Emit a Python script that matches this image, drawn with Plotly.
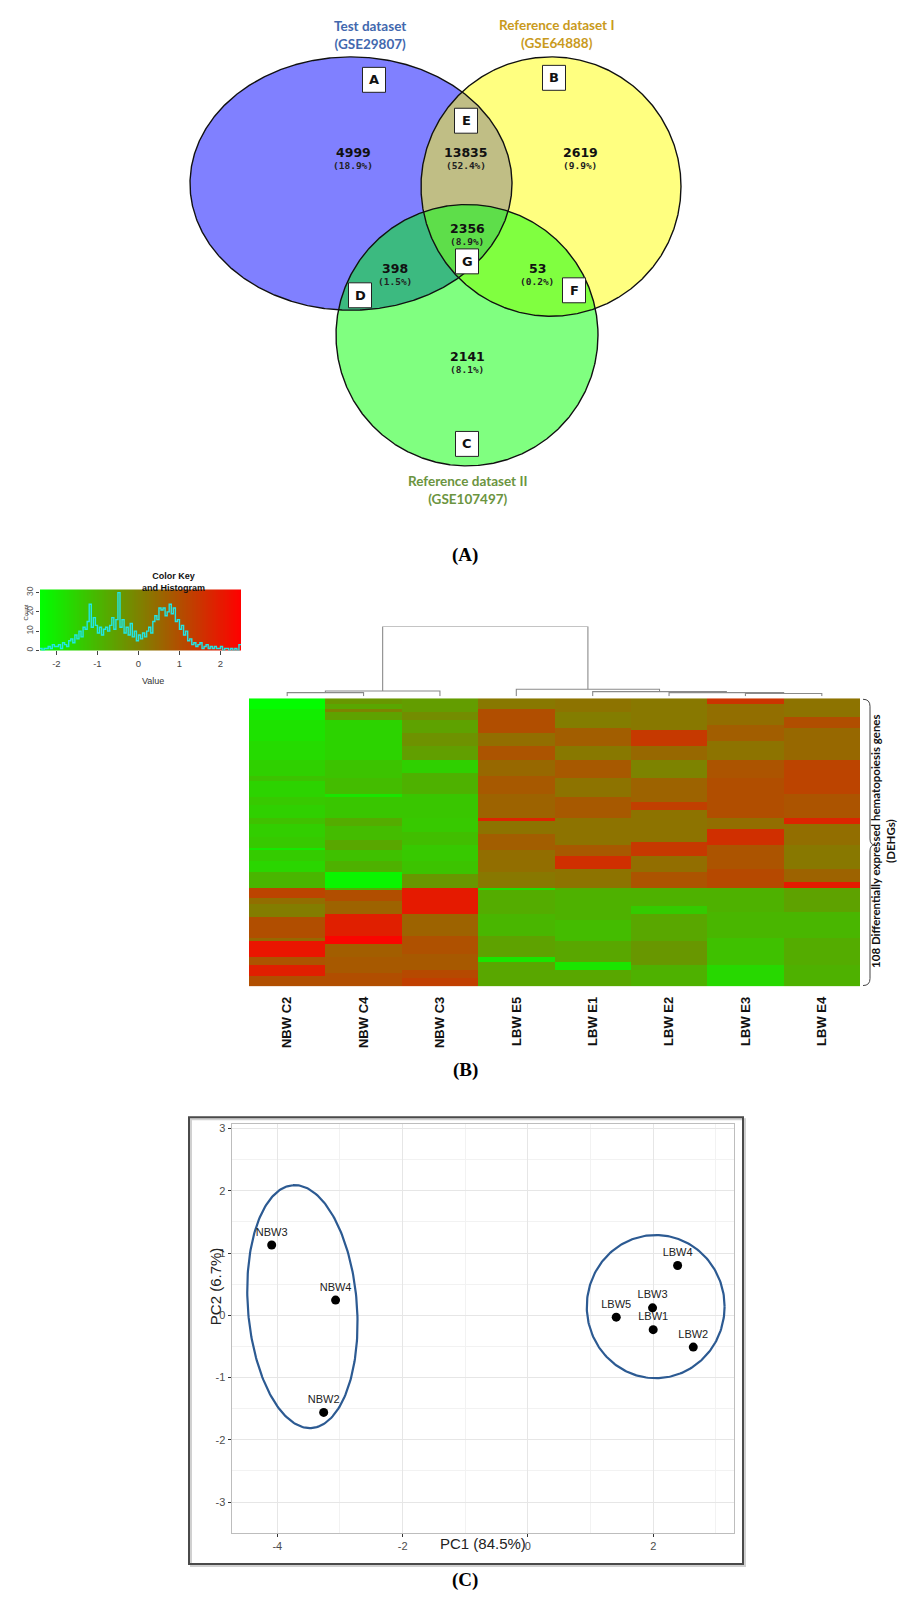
import numpy as np
import plotly.graph_objects as go

W, H = 907, 1604


def fx(p):
    return p / W


def fy(p):
    return 1 - p / H


# ======================= DATA =======================
# (A) Venn diagram
venn_titles = ["Test dataset<br>(GSE29807)", "Reference dataset I<br>(GSE64888)",
               "Reference dataset II<br>(GSE107497)"]
venn_title_colors = ["#4268AE", "#C99A1C", "#6B9440"]
venn_regions = ["A", "B", "C", "D", "E", "F", "G"]
venn_counts = [4999, 2619, 2141, 398, 13835, 53, 2356]
venn_percents = ["18.9%", "9.9%", "8.1%", "1.5%", "52.4%", "0.2%", "8.9%"]

# (B) Heatmap: samples and per-column runs of (number of rows, value), top to bottom
samples = ["NBW C2", "NBW C4", "NBW C3", "LBW E5", "LBW E1", "LBW E2", "LBW E3", "LBW E4"]
runs_nbw_c2 = [(4, -2.35), (4, -2.05), (8, -1.85), (7, -1.7), (6, -1.5), (2, -1.25), (6, -1.55),
               (3, -1.35), (5, -1.5), (2, -1.2), (5, -1.45), (4, -1.35), (1, -2.0), (4, -1.4),
               (4, -1.6), (6, -1.0), (4, 1.2), (2, 0.4), (5, 0.1), (8, 1.0), (1, 0.5), (6, 2.1),
               (3, 0.9), (4, 1.9), (4, 1.0)]
runs_nbw_c4 = [(2, -0.4), (2, -0.7), (1, 0.0), (3, -0.6), (15, -1.55), (7, -1.25), (6, -1.1),
               (1, -1.9), (8, -1.3), (3, -0.8), (5, -1.1), (4, -0.7), (4, -1.2), (4, -0.9),
               (6, -2.2), (1, -0.8), (4, 1.0), (5, 0.6), (8, 1.9), (3, 2.4), (5, 0.7), (6, 0.8),
               (5, 1.0)]
runs_nbw_c3 = [(5, -0.5), (3, -0.2), (5, -0.6), (5, -0.3), (5, -0.55), (5, -1.5), (8, -0.9),
               (9, -1.3), (5, -1.35), (5, -1.15), (6, -1.35), (5, -1.25), (5, -0.4), (10, 2.0),
               (8, 0.6), (7, 0.95), (6, 0.8), (3, 1.1), (3, 1.3)]
runs_lbw_e5 = [(4, 0.2), (9, 1.0), (5, 0.4), (5, 0.9), (6, 0.5), (7, 0.8), (9, 0.6), (1, 1.8),
               (5, 0.3), (6, 0.7), (8, 0.4), (6, 0.2), (1, -1.8), (9, -0.8), (8, -1.0), (8, -0.6),
               (2, -1.9), (9, -0.7)]
runs_lbw_e1 = [(5, 0.3), (6, 0.1), (7, 0.7), (5, 0.2), (7, 0.8), (7, 0.3), (8, 0.8), (10, 0.3),
               (4, 0.8), (5, 1.6), (7, 0.3), (12, -0.9), (8, -1.1), (8, -0.7), (3, -1.9), (6, -0.7)]
runs_lbw_e2 = [(12, 0.2), (6, 1.4), (5, 0.5), (7, 0.0), (9, 0.6), (3, 1.3), (12, 0.3), (5, 1.4),
               (6, 0.4), (6, 0.9), (7, -0.9), (3, -1.4), (10, -0.7), (9, -0.4), (8, -0.9)]
runs_lbw_e3 = [(2, 1.5), (8, 0.4), (6, 0.7), (7, 0.3), (7, 0.9), (15, 1.0), (4, 0.4), (6, 1.6),
               (9, 0.9), (7, 1.1), (9, -0.9), (10, -1.0), (10, -1.2), (8, -1.65)]
runs_lbw_e4 = [(7, 0.3), (4, 1.0), (12, 0.5), (13, 1.2), (9, 0.9), (2, 1.8), (8, 0.4), (9, 0.2),
               (5, 0.6), (2, 2.0), (9, -0.6), (10, -1.0), (10, -0.8), (8, -0.9)]
heat_runs = [runs_nbw_c2, runs_nbw_c4, runs_nbw_c3, runs_lbw_e5,
             runs_lbw_e1, runs_lbw_e2, runs_lbw_e3, runs_lbw_e4]

# Column dendrogram (leaf order = samples order): (child1, child2, height)
dendro_merges = [(0, 1, 0.53), (8, 2, 0.76), (6, 7, 0.39), (5, 10, 0.53),
                 (4, 11, 0.67), (3, 12, 1.0), (9, 13, 10.0)]

# Color key histogram (bins of 0.05 starting at -2.4)
hist_start = -2.4
hist_bin = 0.05
hist_counts = [1, 0, 1, 1, 2, 1, 3, 2,
               2, 3, 1, 4, 3, 2, 5, 6,
               4, 8, 6, 10, 7, 12,
               11, 15, 24, 12, 17, 13,
               9, 12, 8, 11, 12, 10,
               13, 17, 11, 16,
               30, 12, 16, 9, 12, 8,
               14, 7, 10, 5, 8, 6, 9, 7,
               10, 12, 9, 15, 18, 16,
               22, 21, 22, 18, 20, 24,
               19, 22, 15, 16, 11, 13,
               8, 10, 5, 6, 3, 4,
               2, 3, 4, 1, 2, 3, 1, 2,
               1, 2, 1, 1, 2, 0, 1, 1,
               0, 1, 0, 1, 0, 3]

# (C) PCA
pca_names = ["NBW3", "NBW4", "NBW2", "LBW4", "LBW5", "LBW3", "LBW1", "LBW2"]
pc1 = [-4.09, -3.07, -3.26, 2.39, 1.41, 1.99, 2.00, 2.64]
pc2 = [1.13, 0.245, -1.56, 0.80, -0.03, 0.12, -0.23, -0.51]
ell_center_x = [-3.60, 2.04]
ell_center_y = [0.14, 0.14]
ell_semi_a = [1.956, 1.10]
ell_semi_b = [0.87, 1.15]
ell_angle_deg = [94.4, 0.0]

# ======================= FIGURE =======================
fig = go.Figure()
annotations = []
shapes = []

# ---------- (A) Venn ----------
# set outlines: centre x, centre y, radius x, radius y (pixel canvas)
geom = {"A": (343, 173, 161, 127), "B": (543, 176, 130, 130), "C": (459, 325, 131, 131)}
set_fill = {"A": "#8080FF", "B": "#FFFF80", "C": "#80FF80"}
lens_fill = {("A", "B"): "#C0BE85", ("A", "C"): "#3CBA80", ("B", "C"): "#80FF40",
             ("A", "B", "C"): "#5EDE4A"}


def boundary(k, n=900):
    t = np.linspace(0, 2 * np.pi, n, endpoint=False)
    cx, cy, rx, ry = geom[k]
    return np.c_[cx + rx * np.cos(t), cy + ry * np.sin(t)]


def inside(pts, k):
    cx, cy, rx, ry = geom[k]
    return ((pts[:, 0] - cx) / rx) ** 2 + ((pts[:, 1] - cy) / ry) ** 2 <= 1 + 1e-9


def region_poly(keys):
    parts = []
    for k in keys:
        p = boundary(k)
        m = np.ones(len(p), bool)
        for o in keys:
            if o != k:
                m &= inside(p, o)
        parts.append(p[m])
    pts = np.vstack(parts)
    c = pts.mean(axis=0)
    order = np.argsort(np.arctan2(pts[:, 1] - c[1], pts[:, 0] - c[0]))
    pts = pts[order]
    return np.vstack([pts, pts[:1]])


for k in ["A", "B", "C"]:
    p = boundary(k)
    p = np.vstack([p, p[:1]])
    fig.add_trace(go.Scatter(x=p[:, 0], y=p[:, 1], mode="lines", fill="toself",
                             fillcolor=set_fill[k], line=dict(width=0), hoverinfo="skip",
                             showlegend=False, xaxis="x", yaxis="y"))
for keys, col in lens_fill.items():
    p = region_poly(keys)
    fig.add_trace(go.Scatter(x=p[:, 0], y=p[:, 1], mode="lines", fill="toself",
                             fillcolor=col, line=dict(width=0), hoverinfo="skip",
                             showlegend=False, xaxis="x", yaxis="y"))
for k in ["A", "B", "C"]:
    p = boundary(k)
    p = np.vstack([p, p[:1]])
    fig.add_trace(go.Scatter(x=p[:, 0], y=p[:, 1], mode="lines",
                             line=dict(color="#111111", width=1.4), hoverinfo="skip",
                             showlegend=False, xaxis="x", yaxis="y"))

count_xy = {"A": (345, 142), "B": (572, 142), "C": (459, 346), "D": (387, 258),
            "E": (458, 142), "F": (529, 258), "G": (459, 218)}
box_xy = {"A": (366, 69), "B": (546, 67), "C": (459, 434), "D": (352, 285),
          "E": (458, 110), "F": (566, 280), "G": (459, 251)}
for reg, cnt, pct in zip(venn_regions, venn_counts, venn_percents):
    x, y = count_xy[reg]
    annotations.append(dict(x=x, y=y, xref="x", yref="y", text=f"<b>{cnt}</b>", showarrow=False,
                            font=dict(family="DejaVu Sans", size=12.5, color="#111111")))
    annotations.append(dict(x=x, y=y + 13, xref="x", yref="y", text=f"<b>({pct})</b>",
                            showarrow=False,
                            font=dict(family="DejaVu Sans Mono", size=9.5, color="#222222")))
    bx, by = box_xy[reg]
    shapes.append(dict(type="rect", xref="x", yref="y", x0=bx - 11.5, x1=bx + 11.5,
                       y0=by - 12.5, y1=by + 12.5, fillcolor="white",
                       line=dict(color="#222222", width=1)))
    annotations.append(dict(x=bx, y=by, xref="x", yref="y", text=f"<b>{reg}</b>",
                            showarrow=False,
                            font=dict(family="DejaVu Sans", size=13, color="#111111")))

title_xy = [(362, 24), (548, 23), (459, 480)]
for t, c, (x, y) in zip(venn_titles, venn_title_colors, title_xy):
    annotations.append(dict(x=x, y=y, xref="x", yref="y", text=f"<b>{t}</b>", showarrow=False,
                            font=dict(family="Lato", size=13.5, color=c)))

# ---------- Color key ----------
n_bins = len(hist_counts)
edges = hist_start + hist_bin * np.arange(n_bins + 1)
centers = (edges[:-1] + edges[1:]) / 2
key_top = 31.6
gr_scale = [[0, "#00FF00"], [0.5, "#808000"], [1, "#FF0000"]]
fig.add_trace(go.Heatmap(x=centers, y=[0, key_top], z=[list(centers), list(centers)],
                         colorscale=gr_scale, zmin=edges[0], zmax=edges[-1],
                         showscale=False, hoverinfo="skip", xaxis="x2", yaxis="y2"))
fig.add_trace(go.Scatter(x=edges, y=hist_counts + [hist_counts[-1]], mode="lines",
                         line=dict(color="#22E6E6", width=1.4, shape="hv"),
                         hoverinfo="skip", showlegend=False, xaxis="x2", yaxis="y2"))

# ---------- Dendrogram ----------
node_x = {i: float(i) for i in range(len(samples))}
node_h = {i: 0.0 for i in range(len(samples))}
dx, dy = [], []
for j, (a, b, h) in enumerate(dendro_merges):
    nid = len(samples) + j
    dx += [node_x[a], node_x[a], node_x[b], node_x[b], None]
    dy += [node_h[a], h, h, node_h[b], None]
    node_x[nid] = (node_x[a] + node_x[b]) / 2
    node_h[nid] = h
fig.add_trace(go.Scatter(x=dx, y=dy, mode="lines", line=dict(color="#8A8A8A", width=1.1),
                         hoverinfo="skip", showlegend=False, xaxis="x3", yaxis="y3"))

# ---------- Heatmap ----------
cols = []
for runs in heat_runs:
    col = []
    for n, v in runs:
        col += [v] * n
    cols.append(col)
z = np.array(cols).T
fig.add_trace(go.Heatmap(z=z, x=list(range(len(samples))), y=list(range(z.shape[0])),
                         colorscale=gr_scale, zmin=edges[0], zmax=edges[-1], showscale=False,
                         zsmooth=False, hoverinfo="skip", xaxis="x4", yaxis="y4"))

# ---------- PCA ----------
t = np.linspace(0, 2 * np.pi, 240)
for cx, cy, a, b, ang in zip(ell_center_x, ell_center_y, ell_semi_a, ell_semi_b, ell_angle_deg):
    th = np.deg2rad(ang)
    ex = cx + a * np.cos(t) * np.cos(th) - b * np.sin(t) * np.sin(th)
    ey = cy + a * np.cos(t) * np.sin(th) + b * np.sin(t) * np.cos(th)
    fig.add_trace(go.Scatter(x=ex, y=ey, mode="lines", line=dict(color="#2C5A92", width=2.2),
                             hoverinfo="skip", showlegend=False, xaxis="x5", yaxis="y5"))
fig.add_trace(go.Scatter(x=pc1, y=pc2, mode="markers+text", text=pca_names,
                         textposition="top center",
                         textfont=dict(family="Liberation Sans", size=11, color="#222222"),
                         marker=dict(color="black", size=9), hoverinfo="skip",
                         showlegend=False, xaxis="x5", yaxis="y5"))

# ---------- Extra annotations / shapes ----------
annotations.append(dict(x=fx(132), y=fy(572), xref="paper", yref="paper",
                        text="<b>Color Key<br>and Histogram</b>", showarrow=False,
                        font=dict(family="Liberation Sans", size=9, color="#111111")))
annotations.append(dict(x=fx(132), y=fy(672), xref="paper", yref="paper", text="Value",
                        showarrow=False, font=dict(family="Liberation Sans", size=9, color="#333333")))
annotations.append(dict(x=fx(13), y=fy(603), xref="paper", yref="paper", text="Count",
                        textangle=-90, showarrow=False,
                        font=dict(family="Liberation Sans", size=6, color="#333333")))

# Bracket and rotated label for heatmap rows
bx0, bx1, btip = 855, 862, 867
ytop, ybot, ymid = 690, 977, 836
pts = [("M", bx0, ytop), ("Q", bx1, ytop, bx1, ytop + 7), ("L", bx1, ymid - 6),
       ("Q", bx1, ymid, btip, ymid), ("Q", bx1, ymid, bx1, ymid + 6), ("L", bx1, ybot - 7),
       ("Q", bx1, ybot, bx0, ybot)]
path = ""
for p in pts:
    cmd = p[0]
    coords = p[1:]
    s = []
    for i in range(0, len(coords), 2):
        s.append(f"{fx(coords[i]):.5f},{fy(coords[i + 1]):.5f}")
    path += cmd + " " + " ".join(s) + " "
shapes.append(dict(type="path", xref="paper", yref="paper", path=path,
                   line=dict(color="#444444", width=1)))
annotations.append(dict(x=fx(891), y=fy(832), xref="paper", yref="paper",
                        text="<b>108 Differentially expressed hematopoiesis genes<br>(DEHGs)</b>",
                        textangle=-90, showarrow=False,
                        font=dict(family="Lato", size=11.5, color="#111111")))

# PCA frame and axis titles
shapes.append(dict(type="rect", xref="paper", yref="paper", x0=fx(183), x1=fx(737),
                   y0=fy(1559), y1=fy(1111), line=dict(color="#D0D0D0", width=2)))
shapes.append(dict(type="rect", xref="paper", yref="paper", x0=fx(181), x1=fx(735),
                   y0=fy(1557), y1=fy(1109), line=dict(color="#4A4A4A", width=2)))
annotations.append(dict(x=fx(475), y=fy(1547), xref="paper", yref="paper", text="PC1 (84.5%)",
                        showarrow=False, font=dict(family="Liberation Sans", size=15, color="#222222")))
annotations.append(dict(x=fx(197), y=fy(1320), xref="paper", yref="paper", text="PC2 (6.7%)",
                        textangle=-90, showarrow=False,
                        font=dict(family="Liberation Sans", size=15, color="#222222")))

# Panel letters
for lab, y in [("(A)", 532), ("(B)", 1075), ("(C)", 1586)]:
    annotations.append(dict(x=fx(457), y=fy(y), xref="paper", yref="paper", text=f"<b>{lab}</b>",
                            showarrow=False,
                            font=dict(family="Liberation Serif", size=19, color="#000000")))

hidden = dict(visible=False, showgrid=False, zeroline=False)

fig.update_layout(
    width=W, height=H, margin=dict(l=0, r=0, t=0, b=0),
    paper_bgcolor="white", plot_bgcolor="rgba(0,0,0,0)", showlegend=False,
    xaxis=dict(domain=[0, 1], range=[0, W], **hidden),
    yaxis=dict(domain=[fy(500), 1], range=[500, 0], **hidden),
    xaxis2=dict(domain=[fx(32), fx(233)], range=[edges[0], edges[-1]], anchor="y2",
                showgrid=False, zeroline=False, tickvals=[-2, -1, 0, 1, 2],
                ticktext=["-2", "-1", "0", "1", "2"], ticks="outside", ticklen=4,
                tickcolor="#444444", tickfont=dict(family="Liberation Sans", size=9.5,
                                                   color="#444444")),
    yaxis2=dict(domain=[fy(641), fy(580)], range=[0, key_top], anchor="x2", showgrid=False,
                zeroline=False, tickvals=[0, 10, 20, 30], ticks="outside", ticklen=3,
                tickcolor="#444444", tickangle=-90,
                tickfont=dict(family="Liberation Sans", size=8.5, color="#555555")),
    xaxis3=dict(domain=[fx(241), fx(852)], range=[-0.5, len(samples) - 0.5], anchor="y3",
                **hidden),
    yaxis3=dict(domain=[fy(687), fy(617)], range=[0, 10.0], anchor="x3", **hidden),
    xaxis4=dict(domain=[fx(241), fx(852)], range=[-0.5, len(samples) - 0.5], anchor="y4",
                showgrid=False, zeroline=False, tickvals=list(range(len(samples))),
                ticktext=[f"<b>{s}</b>" for s in samples], tickangle=-90, ticks="outside",
                ticklen=0, ticklabelstandoff=4,
                tickfont=dict(family="Liberation Sans", size=13, color="#111111")),
    yaxis4=dict(domain=[fy(978), fy(689)], range=[z.shape[0] - 0.5, -0.5], anchor="x4",
                **hidden),
    xaxis5=dict(domain=[fx(223.6), fx(726)], range=[-4.73, 3.29], anchor="y5",
                tickvals=[-4, -2, 0, 2], ticktext=["-4", "-2", "0", "2"], ticks="outside",
                ticklen=3, tickcolor="#333333", showgrid=True, gridcolor="#E6E6E6",
                gridwidth=1.1, zeroline=False, showline=True, mirror=True,
                linecolor="#BDBDBD", linewidth=1,
                minor=dict(tickvals=[-3, -1, 1, 3], showgrid=True, gridcolor="#F2F2F2",
                           gridwidth=0.8, ticks=""),
                tickfont=dict(family="Liberation Sans", size=11, color="#4D4D4D")),
    yaxis5=dict(domain=[fy(1526), fy(1116)], range=[-3.50, 3.07], anchor="x5",
                tickvals=[-3, -2, -1, 0, 1, 2, 3], ticktext=["-3", "-2", "-1", "0", "1", "2", "3"],
                ticks="outside", ticklen=3, tickcolor="#333333", showgrid=True,
                gridcolor="#E6E6E6", gridwidth=1.1, zeroline=False, showline=True, mirror=True,
                linecolor="#BDBDBD", linewidth=1,
                minor=dict(tickvals=[-2.5, -1.5, -0.5, 0.5, 1.5, 2.5], showgrid=True,
                           gridcolor="#F2F2F2", gridwidth=0.8, ticks=""),
                tickfont=dict(family="Liberation Sans", size=11, color="#4D4D4D")),
    annotations=annotations,
    shapes=shapes,
)

fig.write_html("out.html")
